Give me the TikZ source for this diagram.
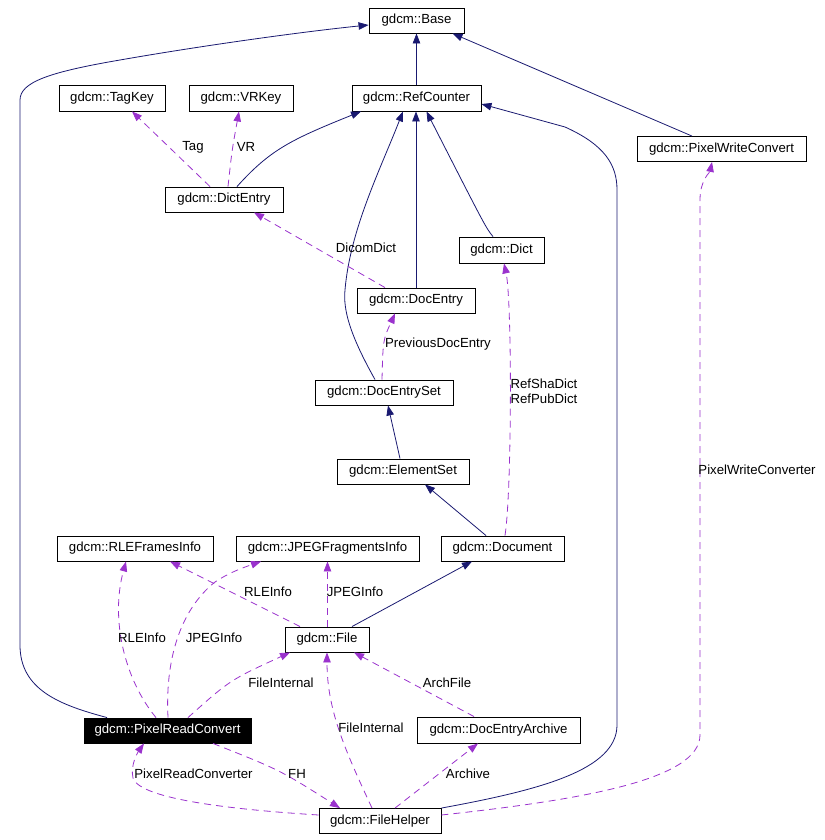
\documentclass[tikz,border=0pt]{standalone}
\usepackage{fontspec}
\setmainfont{Liberation Sans}
\usetikzlibrary{arrows.meta}
\definecolor{inhblue}{RGB}{25,25,112}
\definecolor{usepurple}{RGB}{154,50,205}

\begin{document}
\begin{tikzpicture}[x=1pt, y=-1pt,
		every node/.style={font=\fontsize{13.2}{15}\selectfont, inner sep=0pt},
		cls/.style={draw=black, line width=0.9pt, minimum height=25pt, fill=white},
		inh/.style={draw=inhblue, line width=0.8pt, -{Triangle[length=10pt,width=7.5pt]}},
		usage/.style={draw=usepurple, line width=0.8pt, dash pattern=on 7pt off 5pt, -{Triangle[length=10pt,width=7.5pt]}}]
		\useasboundingbox (0,0) rectangle (824,840);

		\node[cls, minimum width=95pt] (Base) at (416.5,20.5) {gdcm::Base};
		\node[cls, minimum width=106pt, minimum height=26pt] (TagKey) at (112,98) {gdcm::TagKey};
		\node[cls, minimum width=104pt, minimum height=26pt] (VRKey) at (241,98) {gdcm::VRKey};
		\node[cls, minimum width=129pt, minimum height=26pt] (RefCounter) at (416.5,98) {gdcm::RefCounter};
		\node[cls, minimum width=169pt] (PixelWriteConvert) at (721.5,149) {gdcm::PixelWriteConvert};
		\node[cls, minimum width=118pt] (DictEntry) at (224,199.5) {gdcm::DictEntry};
		\node[cls, minimum width=85pt, minimum height=26pt] (Dict) at (501.5,250) {gdcm::Dict};
		\node[cls, minimum width=118pt] (DocEntry) at (416,300.5) {gdcm::DocEntry};
		\node[cls, minimum width=138pt] (DocEntrySet) at (384,392.5) {gdcm::DocEntrySet};
		\node[cls, minimum width=132pt] (ElementSet) at (403,471.5) {gdcm::ElementSet};
		\node[cls, minimum width=156pt] (RLEFramesInfo) at (135,548.5) {gdcm::RLEFramesInfo};
		\node[cls, minimum width=183pt] (JPEGFragmentsInfo) at (327.5,548.5) {gdcm::JPEGFragmentsInfo};
		\node[cls, minimum width=123pt] (Document) at (502.5,548.5) {gdcm::Document};
		\node[cls, minimum width=84pt] (File) at (327,639.5) {gdcm::File};
		\node[cls, minimum width=167pt, fill=black, text=white] (PixelReadConvert) at (167.5,730.5) {gdcm::PixelReadConvert};
		\node[cls, minimum width=163pt, minimum height=26pt] (DocEntryArchive) at (498.5,730) {gdcm::DocEntryArchive};
		\node[cls, minimum width=122pt] (FileHelper) at (380,821) {gdcm::FileHelper};

		\draw[inh] (RefCounter.north) -- (Base.south);
		\draw[inh] ([xshift=-29.5pt]PixelWriteConvert.north) -- ([xshift=36pt]Base.south);
		\draw[inh] ([xshift=-60.5pt]PixelReadConvert.north) .. controls (60,705) and (20,690) .. (20,645) -- (20,100) .. controls (20,82) and (50,72) .. (120,60) .. controls (200,46) and (300,32) .. ([yshift=-4.5pt]Base.west);
		\draw[inh] ([xshift=13pt]DictEntry.north) .. controls (270,150) and (290,140) .. ([xshift=-55.5pt]RefCounter.south);
		\draw[inh] ([xshift=-9pt]DocEntrySet.north) .. controls (350,335) and (343,310) .. (345,290) .. controls (350,230) and (380,170) .. ([xshift=-13.5pt]RefCounter.south);
		\draw[inh] (DocEntry.north) -- (DocEntry.north |- RefCounter.south);
		\draw[inh] ([xshift=-8.5pt]Dict.north) .. controls (486,228) .. ([xshift=10pt]RefCounter.south);
		\draw[inh] (FileHelper.north east) .. controls (540,790) and (617,770) .. (617,725) -- (617,190) .. controls (617,165) and (605,145) .. (565,127) -- ([yshift=-6pt]RefCounter.east);
		\draw[inh] ([xshift=-3pt]ElementSet.north) -- ([xshift=4pt]DocEntrySet.south);
		\draw[inh] ([xshift=-16.5pt]Document.north) -- ([xshift=22pt]ElementSet.south);
		\draw[inh] ([xshift=25pt]File.north) -- ([xshift=-30.5pt]Document.south);

		\draw[usage] ([xshift=-14pt]DictEntry.north) -- ([xshift=20pt]TagKey.south);
		\draw[usage] ([xshift=4pt]DictEntry.north) .. controls (232,150) .. ([xshift=-2pt]VRKey.south);
		\draw[usage] ([xshift=-31pt]DocEntry.north) -- ([xshift=30pt]DictEntry.south);
		\draw[usage] ([xshift=-2pt]DocEntrySet.north) .. controls (383,340) .. ([xshift=-21pt]DocEntry.south);
		\draw[usage] ([xshift=2.5pt]Document.north) .. controls (512,490) and (512,300) .. ([xshift=2.5pt]Dict.south);
		\draw[usage] ([yshift=6pt]FileHelper.east) .. controls (580,800) and (700,780) .. (700,735) -- (700,200) .. controls (700,180) and (710,172) .. ([xshift=-9.5pt]PixelWriteConvert.south);
		\draw[usage] ([xshift=-27pt]File.north) -- ([xshift=35pt]RLEFramesInfo.south);
		\draw[usage] ([xshift=0.5pt]File.north) -- ([xshift=0.5pt]File.north |- JPEGFragmentsInfo.south);
		\draw[usage] ([xshift=-11.5pt]PixelReadConvert.north) .. controls (125,680) and (110,620) .. ([xshift=-9pt]RLEFramesInfo.south);
		\draw[usage] ([xshift=0.5pt]PixelReadConvert.north) .. controls (165,660) and (180,610) .. (215,582) .. controls (230,572) and (245,567) .. ([xshift=-66.5pt]JPEGFragmentsInfo.south);
		\draw[usage] ([xshift=20.5pt]PixelReadConvert.north) .. controls (230,680) .. ([xshift=-37pt]File.south);
		\draw[usage] ([xshift=-24.5pt]DocEntryArchive.north) -- ([xshift=27pt]File.south);
		\draw[usage] ([xshift=-8pt]FileHelper.north) .. controls (345,750) and (327,710) .. (File.south);
		\draw[usage] ([xshift=15pt]FileHelper.north) -- ([xshift=-20.5pt]DocEntryArchive.south);
		\draw[usage] ([xshift=45.5pt]PixelReadConvert.south) .. controls (280,770) .. ([xshift=-40pt]FileHelper.north);
		\draw[usage] ([yshift=6pt]FileHelper.west) .. controls (240,810) and (140,800) .. (133,778) .. controls (130,765) and (138,752) .. ([xshift=-23.5pt]PixelReadConvert.south);

		\node (lTag) at (193,147) {Tag};
		\node (lVR) at (246,147) {VR};
		\node (lDicomDict) at (366,248) {DicomDict};
		\node (lPreviousDocEntry) at (438,344) {PreviousDocEntry};
		\node[align=left] (lRefDict) at (544,391.5) {RefShaDict\\RefPubDict};
		\node (lPixelWriteConverter) at (757,470) {PixelWriteConverter};
		\node (lRLEInfoFile) at (268,592) {RLEInfo};
		\node (lJPEGInfoFile) at (355,592) {JPEGInfo};
		\node (lRLEInfoPixel) at (142,638) {RLEInfo};
		\node (lJPEGInfoPixel) at (214,638) {JPEGInfo};
		\node (lFileInternalPixel) at (281,683) {FileInternal};
		\node (lArchFile) at (447,683) {ArchFile};
		\node (lFileInternalHelper) at (371,728) {FileInternal};
		\node (lArchive) at (468,774) {Archive};
		\node (lFH) at (297,774) {FH};
		\node (lPixelReadConverter) at (193.5,774) {PixelReadConverter};

	\end{tikzpicture}
\end{document}
